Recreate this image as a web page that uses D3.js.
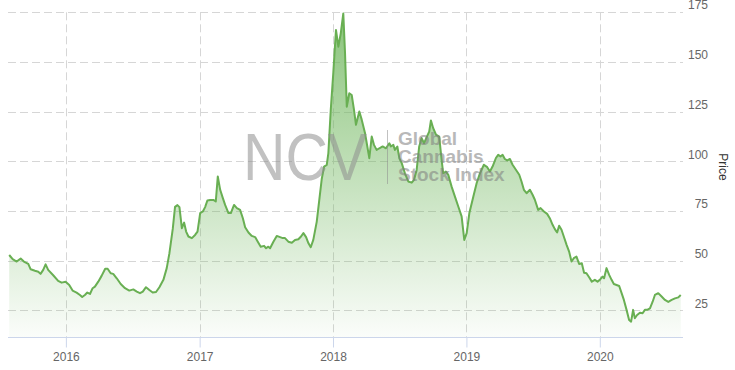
<!DOCTYPE html>
<html>
<head>
<meta charset="utf-8">
<script src="https://cdn.jsdelivr.net/npm/d3@7"></script>
<style>
  body { margin: 0; background: #fff; }
  text { font-family: "Liberation Sans", Arial, Helvetica, sans-serif; }
</style>
</head>
<body>
<svg id="chart" width="735" height="370"></svg>
<script>
// index level, dates kept as decimal years
var years = [
    2015.575, 2015.601, 2015.631, 2015.661, 2015.685, 2015.718, 2015.736, 2015.768,
    2015.793, 2015.810, 2015.830, 2015.848, 2015.867, 2015.905, 2015.942, 2015.968,
    2015.998, 2016.025, 2016.050, 2016.080, 2016.105, 2016.122, 2016.142, 2016.160,
    2016.180, 2016.200, 2016.217, 2016.242, 2016.267, 2016.294, 2016.312, 2016.335,
    2016.354, 2016.380, 2016.410, 2016.442, 2016.474, 2016.504, 2016.530, 2016.554,
    2016.575, 2016.599, 2016.624, 2016.649, 2016.674, 2016.699, 2016.729, 2016.754,
    2016.774, 2016.799, 2016.816, 2016.834, 2016.849, 2016.867, 2016.884, 2016.899,
    2016.916, 2016.942, 2016.966, 2016.984, 2017.004, 2017.024, 2017.041, 2017.058,
    2017.079, 2017.103, 2017.121, 2017.136, 2017.154, 2017.174, 2017.191, 2017.216,
    2017.234, 2017.258, 2017.279, 2017.303, 2017.324, 2017.341, 2017.366, 2017.391,
    2017.416, 2017.436, 2017.458, 2017.483, 2017.498, 2017.515, 2017.528, 2017.553,
    2017.578, 2017.603, 2017.623, 2017.640, 2017.665, 2017.691, 2017.715, 2017.740,
    2017.760, 2017.778, 2017.798, 2017.815, 2017.833, 2017.852, 2017.878, 2017.897,
    2017.915, 2017.933, 2017.953, 2017.965, 2017.983, 2018.002, 2018.022, 2018.040,
    2018.058, 2018.077, 2018.090, 2018.103, 2018.122, 2018.140, 2018.157, 2018.172,
    2018.197, 2018.215, 2018.240, 2018.257, 2018.272, 2018.290, 2018.307, 2018.327,
    2018.347, 2018.372, 2018.397, 2018.422, 2018.434, 2018.452, 2018.464, 2018.482,
    2018.497, 2018.515, 2018.539, 2018.564, 2018.590, 2018.607, 2018.627, 2018.646,
    2018.664, 2018.682, 2018.702, 2018.721, 2018.734, 2018.751, 2018.772, 2018.796,
    2018.814, 2018.826, 2018.846, 2018.864, 2018.889, 2018.914, 2018.939, 2018.964,
    2018.984, 2019.002, 2019.022, 2019.052, 2019.077, 2019.102, 2019.131, 2019.156,
    2019.176, 2019.196, 2019.221, 2019.238, 2019.256, 2019.271, 2019.288, 2019.306,
    2019.326, 2019.346, 2019.371, 2019.396, 2019.413, 2019.431, 2019.451, 2019.476,
    2019.496, 2019.513, 2019.538, 2019.556, 2019.581, 2019.605, 2019.625, 2019.646,
    2019.663, 2019.680, 2019.695, 2019.713, 2019.730, 2019.751, 2019.770, 2019.788,
    2019.805, 2019.825, 2019.845, 2019.865, 2019.882, 2019.900, 2019.920, 2019.940,
    2019.963, 2019.983, 2020.000, 2020.020, 2020.032, 2020.050, 2020.070, 2020.088,
    2020.105, 2020.125, 2020.145, 2020.163, 2020.180, 2020.200, 2020.219, 2020.234,
    2020.249, 2020.262, 2020.279, 2020.300, 2020.320, 2020.337, 2020.354, 2020.375,
    2020.395, 2020.412, 2020.437, 2020.462, 2020.487, 2020.512, 2020.537, 2020.562,
    2020.587, 2020.605
];
var prices = [
    52.9, 50.8, 49.6, 51.1, 49.6, 48.4, 45.7, 45.0,
    44.5, 43.4, 45.4, 48.2, 45.4, 42.7, 39.9, 39.0,
    39.4, 37.8, 35.0, 34.0, 32.8, 31.8, 32.8, 34.0,
    33.3, 36.2, 37.0, 39.5, 42.4, 46.0, 46.0, 43.7,
    43.4, 41.2, 38.3, 36.2, 35.0, 35.6, 34.5, 33.7,
    34.5, 36.7, 35.3, 34.0, 34.3, 36.7, 40.4, 46.3,
    53.8, 66.0, 77.1, 78.0, 77.0, 66.4, 69.2, 64.7,
    62.2, 61.4, 63.0, 64.7, 74.0, 74.8, 77.0, 80.3,
    80.6, 80.6, 79.8, 92.4, 85.7, 81.5, 78.1, 74.0,
    74.0, 78.1, 76.5, 75.6, 71.4, 66.9, 64.2, 62.5,
    61.9, 59.6, 57.1, 57.5, 56.3, 57.1, 56.3, 59.6,
    62.5, 61.9, 61.4, 61.4, 59.6, 59.1, 60.5, 60.8,
    62.2, 63.9, 61.9, 58.9, 56.8, 60.5, 69.7, 80.6,
    91.0, 97.4, 98.2, 104.2, 126.0, 144.5, 166.1, 157.7,
    164.4, 174.4, 154.4, 127.5, 134.3, 133.4, 126.0, 118.4,
    125.1, 121.0, 114.2, 107.5, 101.6, 112.5, 108.3, 105.8,
    106.6, 107.5, 106.6, 109.1, 107.5, 108.3, 105.8, 107.5,
    101.6, 99.1, 94.0, 89.9, 89.3, 90.7, 95.7, 107.5,
    111.7, 109.1, 112.2, 115.0, 120.6, 116.7, 113.4, 112.5,
    100.8, 94.0, 94.9, 93.2, 87.3, 82.3, 77.3, 72.3,
    60.5, 63.9, 74.0, 82.3, 89.1, 94.1, 98.3, 97.1,
    94.9, 97.4, 101.7, 103.3, 102.5, 103.3, 101.2, 100.5,
    101.2, 98.3, 95.8, 93.3, 89.9, 85.7, 84.0, 85.7,
    83.2, 80.7, 75.6, 76.5, 74.8, 73.6, 71.4, 68.1,
    65.9, 64.2, 67.6, 65.6, 62.2, 58.0, 54.6, 49.6,
    51.3, 52.1, 48.4, 48.8, 44.0, 43.7, 41.7, 39.5,
    40.4, 39.5, 40.4, 42.0, 41.2, 46.3, 42.9, 40.4,
    38.3, 37.8, 37.3, 33.7, 30.3, 25.3, 20.2, 19.4,
    25.3, 21.1, 22.7, 23.9, 23.6, 25.3, 25.3, 26.1,
    29.4, 32.8, 33.7, 32.0, 30.3, 29.3, 30.3, 31.1,
    31.6, 32.8
];
var yTicks = [25, 50, 75, 100, 125, 150, 175];
var xTicks = [2016, 2017, 2018, 2019, 2020];
var watermarkLines = ["Global", "Cannabis", "Stock Index"];

// decimal year -> Date
function toDate(y) {
    var yr = Math.floor(y);
    var a = Date.UTC(yr, 0, 1), b = Date.UTC(yr + 1, 0, 1);
    return new Date(a + (y - yr) * (b - a));
}

var data = years.map(function(y, i) { return {date: toDate(y), value: prices[i]}; });

var plot = {left: 8, right: 683, top: 12.3, bottom: 337};

var x = d3.scaleUtc()
    .domain([toDate(2015.566), toDate(2020.622)])
    .range([plot.left, plot.right]);
var y = d3.scaleLinear()
    .domain([11.65, 175])
    .range([plot.bottom, plot.top]);

var svg = d3.select("#chart");

// gradient for the area
var grad = svg.append("defs").append("linearGradient")
    .attr("id", "areaFill")
    .attr("gradientUnits", "userSpaceOnUse")
    .attr("x1", 0).attr("x2", 0)
    .attr("y1", plot.top).attr("y2", plot.bottom);
grad.append("stop").attr("offset", 0)
    .attr("stop-color", "#6db55a").attr("stop-opacity", 0.8);
grad.append("stop").attr("offset", 1)
    .attr("stop-color", "#6db55a").attr("stop-opacity", 0.03);

// horizontal grid
svg.append("g")
    .selectAll("line")
    .data(yTicks)
    .enter().append("line")
    .attr("x1", plot.left).attr("x2", plot.right)
    .attr("y1", function(d) { return Math.round(y(d)) + 0.5; })
    .attr("y2", function(d) { return Math.round(y(d)) + 0.5; })
    .style("stroke", "#d6d6d6")
    .style("stroke-dasharray", "8,4");

// vertical grid
svg.append("g")
    .selectAll("line")
    .data(xTicks)
    .enter().append("line")
    .attr("x1", function(d) { return Math.round(x(toDate(d))) + 0.5; })
    .attr("x2", function(d) { return Math.round(x(toDate(d))) + 0.5; })
    .attr("y1", plot.top).attr("y2", plot.bottom)
    .style("stroke", "#d6d6d6")
    .style("stroke-dasharray", "8,4");

var area = d3.area()
    .x(function(d) { return x(d.date); })
    .y0(plot.bottom)
    .y1(function(d) { return y(d.value); });

var line = d3.line()
    .x(function(d) { return x(d.date); })
    .y(function(d) { return y(d.value); });

svg.append("path")
    .datum(data)
    .attr("d", area)
    .style("fill", "url(#areaFill)");

svg.append("path")
    .datum(data)
    .attr("d", line)
    .style("fill", "none")
    .style("stroke", "#69af53")
    .style("stroke-width", 2)
    .style("stroke-linejoin", "round");

// watermark
var wm = svg.append("g").style("opacity", 0.55);
wm.append("text")
    .text("NCV")
    .attr("x", 243).attr("y", 180)
    .attr("textLength", 124)
    .attr("lengthAdjust", "spacingAndGlyphs")
    .style("font-size", "67px")
    .style("fill", "#8f8f8f");
wm.append("line")
    .attr("x1", 387.5).attr("x2", 387.5)
    .attr("y1", 130).attr("y2", 184)
    .style("stroke", "#8f8f8f")
    .style("stroke-width", 1);
wm.selectAll("text.sub")
    .data(watermarkLines)
    .enter().append("text")
    .attr("class", "sub")
    .text(function(d) { return d; })
    .attr("x", 398)
    .attr("y", function(d, i) { return 145 + i * 18; })
    .style("font-size", "19px")
    .style("font-weight", "bold")
    .style("fill", "#7f7f7f");

// bottom axis
var xAxis = d3.axisBottom(x)
    .tickValues(xTicks.map(toDate))
    .tickFormat(d3.utcFormat("%Y"))
    .tickSize(10)
    .tickPadding(5);

var gx = svg.append("g")
    .attr("transform", "translate(0," + (plot.bottom + 0.5) + ")")
    .call(xAxis);
gx.select(".domain").remove();
gx.insert("line", ":first-child")
    .attr("x1", plot.left).attr("x2", plot.right)
    .style("stroke", "#ccd6eb");
gx.selectAll(".tick line").style("stroke", "#ccd6eb");
gx.selectAll(".tick text")
    .style("font-size", "12px")
    .style("fill", "#666")
    .style("font-family", "'Liberation Sans', Arial, sans-serif");

// right axis labels, sitting just above their grid lines
var yAxis = d3.axisRight(y)
    .tickValues(yTicks)
    .tickSize(0)
    .tickPadding(0);

var gy = svg.append("g")
    .attr("transform", "translate(708,0)")
    .call(yAxis);
gy.select(".domain").remove();
gy.selectAll(".tick text")
    .attr("x", 0)
    .attr("dy", "-0.28em")
    .attr("text-anchor", "end")
    .style("font-size", "12px")
    .style("fill", "#666")
    .style("font-family", "'Liberation Sans', Arial, sans-serif");

svg.append("text")
    .text("Price")
    .attr("transform", "translate(719,167) rotate(90)")
    .attr("text-anchor", "middle")
    .style("font-size", "12px")
    .style("fill", "#333");
</script>
</body>
</html>
